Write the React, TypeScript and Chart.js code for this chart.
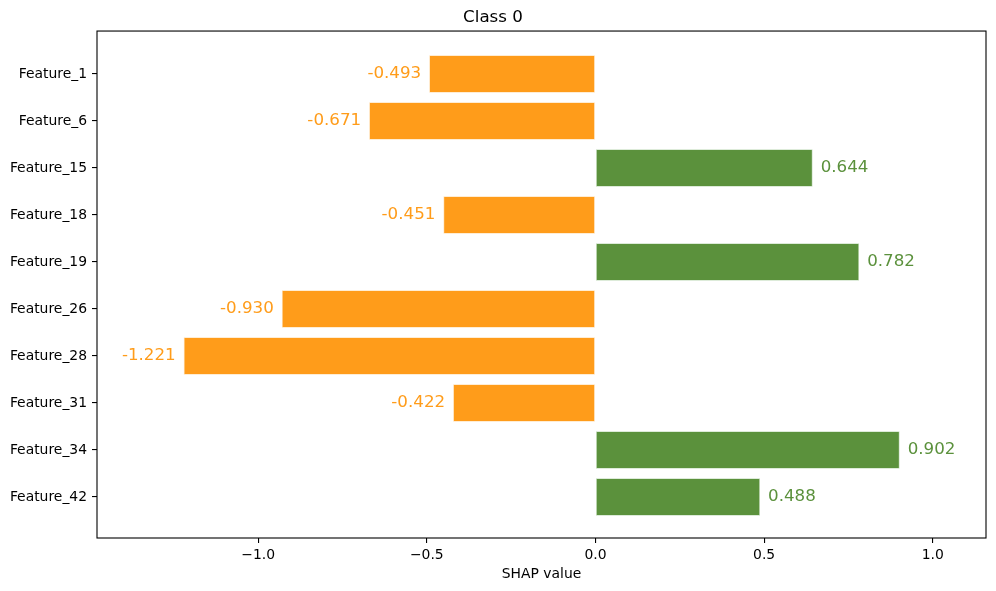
import React, { useEffect, useRef } from "react";
import { Chart, registerables } from "chart.js";

Chart.register(...registerables);

const categories = [
  "Feature_1",
  "Feature_6",
  "Feature_15",
  "Feature_18",
  "Feature_19",
  "Feature_26",
  "Feature_28",
  "Feature_31",
  "Feature_34",
  "Feature_42",
];
const shapValues = [-0.493, -0.671, 0.644, -0.451, 0.782, -0.93, -1.221, -0.422, 0.902, 0.488];
const xTickValues = [-1.0, -0.5, 0.0, 0.5, 1.0];

const NEG_COLOR = "#ff9c1a";
const POS_COLOR = "#5b913c";
const FONT = "'DejaVu Sans', sans-serif";

const boxPlugin = {
  id: "boxPlugin",
  afterDraw(chart: any) {
    const { ctx, chartArea } = chart;
    ctx.save();
    ctx.strokeStyle = "#000";
    ctx.lineWidth = 1.1;
    ctx.strokeRect(chartArea.left, chartArea.top, chartArea.right - chartArea.left, chartArea.bottom - chartArea.top);
    ctx.restore();
  },
};

const valueLabelPlugin = {
  id: "valueLabelPlugin",
  afterDatasetsDraw(chart: any) {
    const { ctx } = chart;
    const meta = chart.getDatasetMeta(0);
    ctx.save();
    ctx.font = `16.7px ${FONT}`;
    ctx.textBaseline = "middle";
    meta.data.forEach((el: any, i: number) => {
      const v = shapValues[i];
      ctx.fillStyle = v < 0 ? NEG_COLOR : POS_COLOR;
      if (v < 0) {
        ctx.textAlign = "right";
        ctx.fillText(v.toFixed(3), el.x - 8, el.y);
      } else {
        ctx.textAlign = "left";
        ctx.fillText(v.toFixed(3), el.x + 8, el.y);
      }
    });
    ctx.restore();
  },
};

export default function App() {
  const canvasRef = useRef<HTMLCanvasElement | null>(null);

  useEffect(() => {
    if (!canvasRef.current) return;
    const chart = new Chart(canvasRef.current, {
      type: "bar",
      data: {
        datasets: [
          {
            data: shapValues.map((v, i) => ({ x: v, y: i })),
            backgroundColor: shapValues.map((v) => (v < 0 ? NEG_COLOR : POS_COLOR)),
            borderColor: shapValues.map((v) => (v < 0 ? "rgba(255,215,160,0.8)" : "rgba(180,210,170,0.8)")),
            borderWidth: 0.8,
            borderSkipped: false,
            barPercentage: 0.8,
            categoryPercentage: 1.0,
          },
        ],
      },
      plugins: [boxPlugin, valueLabelPlugin],
      options: {
        animation: false,
        responsive: false,
        maintainAspectRatio: false,
        indexAxis: "y",
        layout: { padding: { left: 0, right: 10, top: 0, bottom: 0 } },
        plugins: {
          legend: { display: false },
          tooltip: { enabled: false },
          title: {
            display: true,
            text: "Class 0",
            color: "#000",
            font: { family: FONT, size: 16.7, weight: "normal" },
            padding: { top: 8, bottom: 3 },
          },
        },
        scales: {
          x: {
            type: "linear",
            min: -1.478,
            max: 1.158,
            afterBuildTicks: (scale: any) => {
              scale.ticks = xTickValues.map((v) => ({ value: v }));
            },
            afterFit: (scale: any) => {
              scale.height = 53;
            },
            ticks: {
              color: "#000",
              font: { family: FONT, size: 13.9 },
              padding: 4,
              maxRotation: 0,
              callback: (v: any) => Number(v).toFixed(1).replace("-", "\u2212"),
            },
            grid: {
              drawOnChartArea: false,
              drawTicks: true,
              tickLength: 5,
              color: "#000",
              lineWidth: 1.1,
            },
            border: { display: false },
            title: {
              display: true,
              text: "SHAP value",
              color: "#000",
              font: { family: FONT, size: 13.9 },
              padding: { top: 2, bottom: 8 },
            },
          },
          y: {
            type: "linear",
            reverse: true,
            offset: false,
            min: -0.915,
            max: 9.873,
            afterBuildTicks: (scale: any) => {
              scale.ticks = categories.map((_, i) => ({ value: i }));
            },
            afterFit: (scale: any) => {
              scale.width = 97;
            },
            ticks: {
              color: "#000",
              font: { family: FONT, size: 13.9 },
              padding: 5,
              callback: (v: any) => categories[Math.round(Number(v))] ?? "",
            },
            grid: {
              offset: false,
              drawOnChartArea: false,
              drawTicks: true,
              tickLength: 5,
              color: "#000",
              lineWidth: 1.1,
            },
            border: { display: false },
          },
        },
      },
    } as any);
    return () => chart.destroy();
  }, []);

  return (
    <div style={{ position: "absolute", left: 0, top: 0, width: 996, height: 591, background: "#fff" }}>
      <canvas ref={canvasRef} width={996} height={591} style={{ width: 996, height: 591 }} />
    </div>
  );
}
